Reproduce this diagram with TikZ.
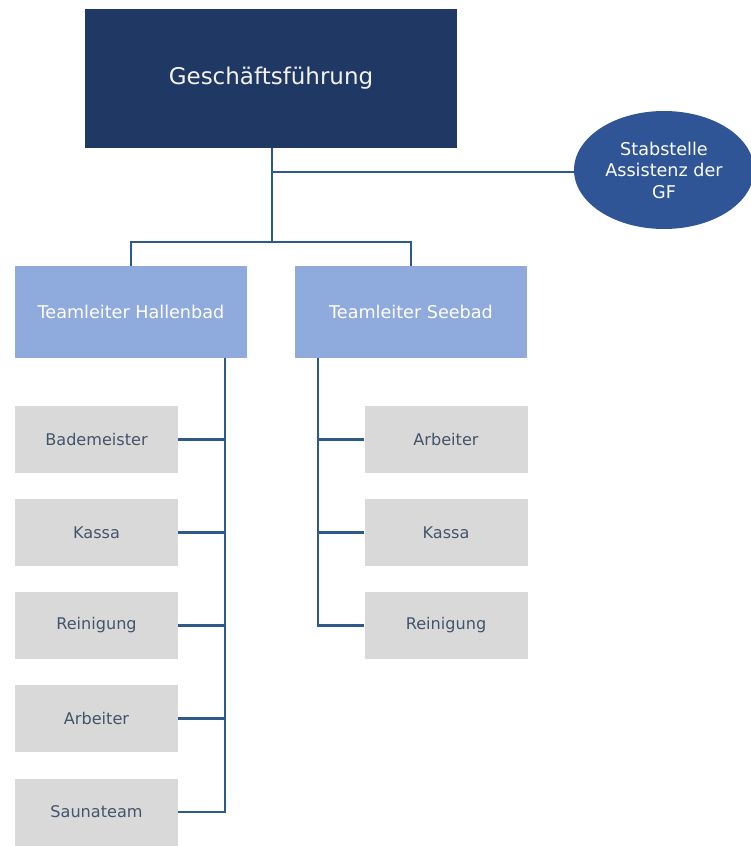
\documentclass[tikz,border=0pt]{standalone}
\usepackage{fontspec}
\setmainfont{DejaVu Sans}
\usetikzlibrary{shapes.geometric}
\definecolor{navy}{HTML}{203864}
\definecolor{midblue}{HTML}{2F5597}
\definecolor{lightblue}{HTML}{8FAADC}
\definecolor{boxgray}{HTML}{D9D9D9}
\definecolor{linecol}{HTML}{2D5A8A}
\definecolor{graytext}{HTML}{44546A}
\tikzset{
  topbox/.style={rectangle, fill=navy, minimum width=372pt, minimum height=139pt, inner sep=0pt,
    text=white!95!black, font=\fontsize{23}{27}\selectfont},
  leadbox/.style={rectangle, fill=lightblue, minimum width=232pt, minimum height=92pt, inner sep=0pt,
    text=white, font=\fontsize{17.6}{21}\selectfont},
  staffbox/.style={rectangle, fill=boxgray, minimum width=163pt, minimum height=67pt, inner sep=0pt,
    text=graytext, font=\fontsize{16.1}{19}\selectfont},
  stab/.style={ellipse, fill=midblue, minimum width=180pt, minimum height=118pt, inner sep=0pt,
    text=white, align=center, font=\fontsize{17.6}{21.5}\selectfont},
  conn/.style={draw=linecol, line width=2.4pt},
}
\begin{document}
\begin{tikzpicture}[x=1pt,y=-1pt]
\useasboundingbox (0,0) rectangle (750,846);
% top
\node[topbox] (gf) at (271,78.5) {Geschäftsführung};
\node[stab] (stab) at (664,170) {Stabstelle\\Assistenz der\\GF};
% team leaders
\node[leadbox] (th) at (131,312) {Teamleiter Hallenbad};
\node[leadbox] (ts) at (411,312) {Teamleiter Seebad};
% left column
\node[staffbox] (b1) at (96.5,439.5) {Bademeister};
\node[staffbox] (b2) at (96.5,532.5) {Kassa};
\node[staffbox] (b3) at (96.5,625.5) {Reinigung};
\node[staffbox] (b4) at (96.5,718.5) {Arbeiter};
\node[staffbox] (b5) at (96.5,812) {Saunateam};
% right column
\node[staffbox] (s1) at (446,439.5) {Arbeiter};
\node[staffbox] (s2) at (446,532.5) {Kassa};
\node[staffbox] (s3) at (446,625.5) {Reinigung};
% coordinates
\coordinate (j1) at (272,172);
\coordinate (j2) at (272,242);
\coordinate (lx) at (225,358);
\coordinate (rx) at (318,358);
% connectors
\draw[conn] (gf.south -| j1) -- (j2);
\draw[conn] (j1) -- (j1 -| stab.west);
\draw[conn] (th.north) |- (j2) -| (ts.north);
\draw[conn] (lx) |- (b5.east);
\draw[conn] (b1.east) -- (b1.east -| lx);
\draw[conn] (b2.east) -- (b2.east -| lx);
\draw[conn] (b3.east) -- (b3.east -| lx);
\draw[conn] (b4.east) -- (b4.east -| lx);
\draw[conn] (rx) |- (s3.west);
\draw[conn] (s1.west) -- (s1.west -| rx);
\draw[conn] (s2.west) -- (s2.west -| rx);
\end{tikzpicture}
\end{document}
